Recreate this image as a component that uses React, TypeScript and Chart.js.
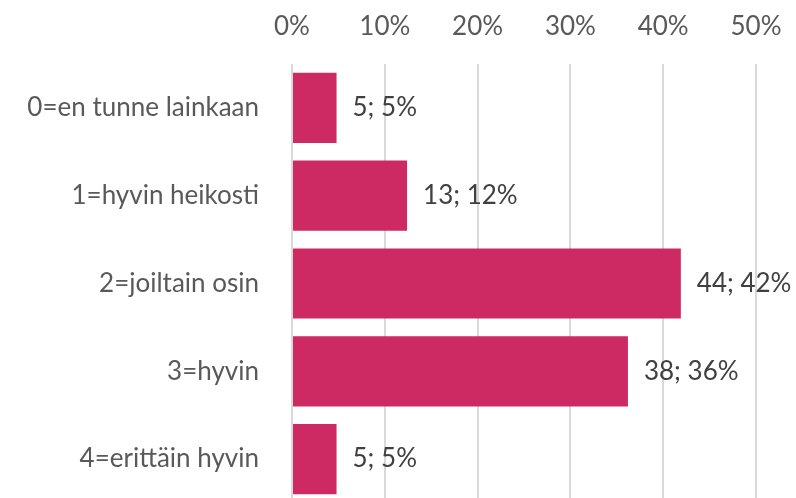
import React, { useEffect, useRef } from "react";
import { Chart, registerables } from "chart.js";

Chart.register(...registerables);

const categories = [
  "0=en tunne lainkaan",
  "1=hyvin heikosti",
  "2=joiltain osin",
  "3=hyvin",
  "4=erittäin hyvin",
];
const counts = [5, 13, 44, 38, 5];
const shares = [4.8, 12.4, 41.9, 36.2, 4.8];
const pctLabels = [5, 12, 42, 36, 5];
const xTickStep = 10;
const xMax = 50;

const FONT = "Lato";
const FONT_SIZE = 26;
const TICK_COLOR = "#595959";
const LABEL_COLOR = "#404040";
const BAR_COLOR = "#CD2A63";
const GRID_COLOR = "#D9D9D9";

const dataLabelPlugin = {
  id: "dataLabels",
  afterDatasetsDraw(chart: any) {
    const ctx = chart.ctx;
    const meta = chart.getDatasetMeta(0);
    ctx.save();
    ctx.font = `${FONT_SIZE}px ${FONT}`;
    ctx.fillStyle = LABEL_COLOR;
    ctx.textAlign = "left";
    ctx.textBaseline = "middle";
    meta.data.forEach((bar: any, i: number) => {
      ctx.fillText(`${counts[i]}; ${pctLabels[i]}%`, bar.x + 16, bar.y);
    });
    ctx.restore();
  },
};

export default function App() {
  const canvasRef = useRef<HTMLCanvasElement | null>(null);

  useEffect(() => {
    if (!canvasRef.current) return;
    const chart = new Chart(canvasRef.current, {
      type: "bar",
      data: {
        labels: categories,
        datasets: [
          {
            data: shares,
            backgroundColor: BAR_COLOR,
            borderWidth: 0,
            barPercentage: 1,
            categoryPercentage: 0.8,
          },
        ],
      },
      options: {
        indexAxis: "y",
        responsive: false,
        animation: false,
        devicePixelRatio: 1,
        layout: { padding: { left: 0, right: 40, top: 0, bottom: 0 } },
        plugins: {
          legend: { display: false },
          tooltip: { enabled: false },
        },
        scales: {
          x: {
            position: "top",
            min: 0,
            max: xMax,
            ticks: {
              stepSize: xTickStep,
              callback: (v: any) => `${v}%`,
              font: { family: FONT, size: FONT_SIZE },
              color: TICK_COLOR,
              padding: 22,
              maxRotation: 0,
              autoSkip: false,
            },
            grid: { color: GRID_COLOR, lineWidth: 2, drawTicks: false },
            border: { display: false },
            afterFit: (s: any) => {
              s.height = 64;
              s.paddingLeft = 0;
              s.paddingRight = 0;
            },
          },
          y: {
            ticks: {
              font: { family: FONT, size: FONT_SIZE },
              color: TICK_COLOR,
              padding: 33,
            },
            grid: { display: false, drawTicks: false },
            border: { display: false },
            afterFit: (s: any) => {
              s.width = 292;
              s.paddingTop = 0;
              s.paddingBottom = 0;
            },
          },
        },
      },
      plugins: [dataLabelPlugin],
    });
    return () => chart.destroy();
  }, []);

  return (
    <div
      style={{
        position: "fixed",
        left: 0,
        top: 0,
        width: 796,
        height: 498,
        overflow: "hidden",
        background: "#fff",
      }}
    >
      <canvas
        ref={canvasRef}
        width={796}
        height={503}
        style={{ display: "block", width: 796, height: 503 }}
      />
    </div>
  );
}
